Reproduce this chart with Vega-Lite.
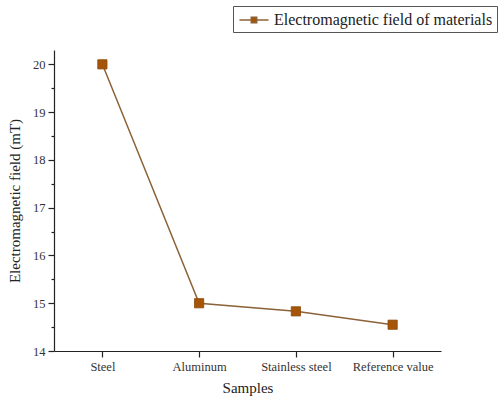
{
  "$schema": "https://vega.github.io/schema/vega-lite/v6.json",
  "autosize": "none",
  "width": 387,
  "height": 301,
  "padding": {"left": 54, "top": 50, "right": 57, "bottom": 52},
  "background": "white",
  "config": {
    "view": {"stroke": null},
    "font": "Liberation Serif",
    "axis": {
      "labelFont": "Liberation Serif",
      "titleFont": "Liberation Serif",
      "labelColor": "#333333",
      "titleColor": "#222222",
      "domainColor": "#222222",
      "tickColor": "#222222",
      "domainWidth": 1.2,
      "tickWidth": 1.2,
      "grid": false,
      "titleFontWeight": "normal",
      "labelFontSize": 12.5,
      "titleFontSize": 15
    }
  },
  "data": {
    "values": [
      {"sample": "Steel", "field": 20.0, "series": "Electromagnetic field of materials"},
      {"sample": "Aluminum", "field": 15.0, "series": "Electromagnetic field of materials"},
      {"sample": "Stainless steel", "field": 14.83, "series": "Electromagnetic field of materials"},
      {"sample": "Reference value", "field": 14.55, "series": "Electromagnetic field of materials"}
    ]
  },
  "encoding": {
    "x": {
      "field": "sample",
      "type": "ordinal",
      "sort": null,
      "scale": {"type": "point", "padding": 0.5},
      "axis": {"title": "Samples", "labelAngle": 0, "tickSize": 6, "labelPadding": 3, "titlePadding": 8, "labelFont": "Liberation Serif", "labelFontSize": 12.5}
    },
    "y": {
      "field": "field",
      "type": "quantitative",
      "scale": {"domain": [14, 20.3], "nice": false, "zero": false},
      "axis": {
        "title": "Electromagnetic field (mT)",
        "values": [14, 14.5, 15, 15.5, 16, 16.5, 17, 17.5, 18, 18.5, 19, 19.5, 20],
        "labelExpr": "datum.value % 1 === 0 ? format(datum.value, 'd') : ''",
        "tickSize": {"condition": {"test": "datum.value % 1 !== 0", "value": 3}, "value": 6},
        "labelFont": "Liberation Serif",
        "labelFontSize": 12.5,
        "labelPadding": 3,
        "titlePadding": 10
      }
    }
  },
  "layer": [
    {
      "mark": {"type": "line", "color": "#8C6239", "strokeWidth": 1.5}
    },
    {
      "mark": {"type": "point", "shape": "square", "filled": true, "size": 85, "opacity": 1, "stroke": "#8B4A0A", "strokeWidth": 0.8},
      "encoding": {
        "color": {
          "field": "series",
          "type": "nominal",
          "scale": {"range": ["#A65508"]},
          "legend": {
            "title": null,
            "orient": "none",
            "legendX": 179,
            "legendY": -44,
            "strokeColor": "#555555",
            "fillColor": "white",
            "padding": 4,
            "symbolType": "M -1.6 0 H -0.3 M 0.3 0 H 1.6 M -0.3 -0.3 H 0.3 V 0.3 H -0.3 Z",
            "symbolSize": 330,
            "symbolStrokeColor": "#8C6239",
            "symbolStrokeWidth": 1.5,
            "symbolOffset": 7,
            "labelOffset": 10,
            "labelFont": "Liberation Serif",
            "labelFontSize": 16,
            "labelColor": "#222222",
            "labelLimit": 400
          }
        }
      }
    }
  ]
}
